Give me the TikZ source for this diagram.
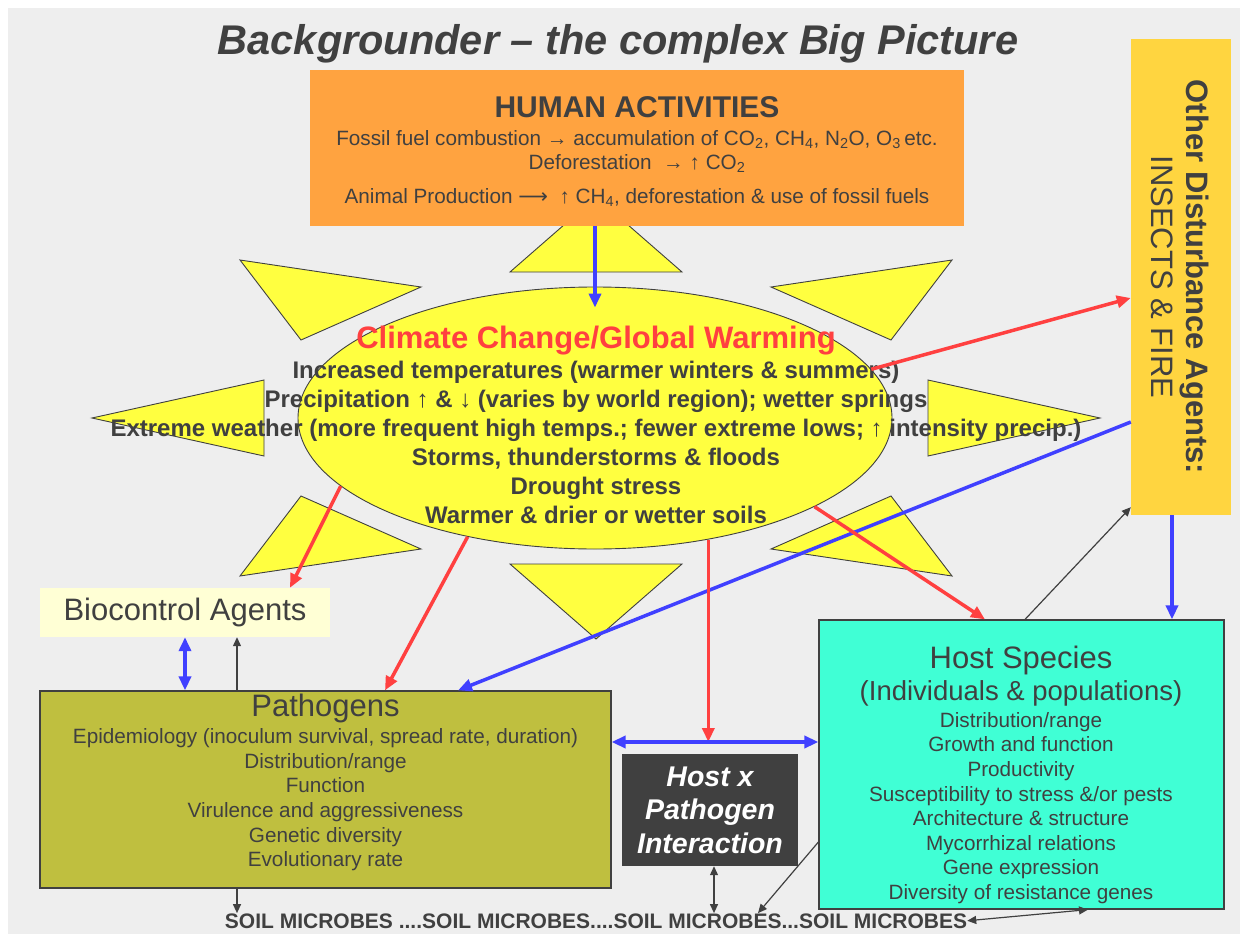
\documentclass[tikz,border=0pt]{standalone}
\usepackage{fontspec}
\setmainfont{Liberation Sans}
\newfontfamily\longarrowfont{DejaVu Sans}
\usetikzlibrary{arrows.meta,shapes.geometric}
\lineskiplimit=-99pt

\definecolor{bggray}{HTML}{EEEEEE}
\definecolor{ink}{HTML}{404040}
\definecolor{orangebox}{HTML}{FFA340}
\definecolor{sunny}{HTML}{FFFF40}
\definecolor{gold}{HTML}{FFD540}
\definecolor{pale}{HTML}{FFFFD5}
\definecolor{olive}{HTML}{BFBF3F}
\definecolor{aqua}{HTML}{40FFD5}
\definecolor{hotred}{HTML}{FF4040}
\definecolor{coldblue}{HTML}{4040FF}

\begin{document}
\begin{tikzpicture}[x=1pt,y=-1pt,
    every node/.style={text=ink, inner sep=0pt, align=center},
    ray/.style={fill=sunny, draw=ink, line width=0.9pt},
    hot/.style={draw=hotred, line width=3.5pt, -{Triangle[length=14pt,width=12pt]}},
    cold/.style={draw=coldblue, line width=3.5pt, -{Triangle[length=14pt,width=12pt]}},
    cold2/.style={cold, {Triangle[length=14pt,width=12pt]}-{Triangle[length=14pt,width=12pt]}},
    link/.style={draw=ink, line width=1.2pt, -{Triangle[length=9pt,width=8pt]}},
    link2/.style={link, {Triangle[length=9pt,width=8pt]}-{Triangle[length=9pt,width=8pt]}},
    big/.style={font=\fontsize{31}{35}\selectfont},
    small/.style={font=\fontsize{20.7}{24.6}\selectfont}]

    \useasboundingbox (0,0) rectangle (1240,934);
    \fill[bggray] (8,8) rectangle (1240,934); % slide background

    \node[font=\fontsize{41.5}{48}\selectfont\bfseries\itshape, anchor=base] (title) at (618,55)
        {Backgrounder – the complex Big Picture};

    % the rays of the sun, mirrored round its centre
    \begin{scope}[shift={(596,418)}]
    \foreach \sx in {1,-1}
        \foreach \sy in {1,-1}
            \filldraw[ray, xscale=\sx, yscale=\sy] (-356,-158) -- (-175,-131) -- (-295,-78) -- cycle;
    \foreach \s in {1,-1}
    {
        \filldraw[ray, yscale=\s] (-86,-146) -- (86,-146) -- (0,-221) -- cycle; % up and down
        \filldraw[ray, xscale=\s] (-504,0) -- (-332,-38) -- (-332,38) -- cycle; % left and right
    }
    \end{scope}

    \node[fill=orangebox, minimum width=654pt, minimum height=156pt] (human) at (637,148) {};
    \node[font=\fontsize{20.7}{24}\selectfont] (humantxt) at (637,151.5)
    {
        {\fontsize{30}{36}\selectfont\bfseries HUMAN ACTIVITIES}\\[4pt]
        Fossil fuel combustion → accumulation of CO\textsubscript{2}, CH\textsubscript{4}, N\textsubscript{2}O, O\textsubscript{3}\,etc.\\
        Deforestation \ → ↑ CO\textsubscript{2}\\[10pt]
        Animal Production {\longarrowfont ⟶}\ \ ↑ CH\textsubscript{4}, deforestation \& use of fossil fuels
    };

    \node[ellipse, fill=sunny, draw=ink, line width=0.9pt,
          minimum width=594pt, minimum height=262pt] (sun) at (595,418) {};
    \node[font=\fontsize{24}{29}\selectfont\bfseries] (climate) at (596,424.5)
    {
        {\color{hotred}\fontsize{31}{35}\selectfont Climate Change/Global Warming}\\[1pt]
        Increased temperatures (warmer winters \& summers)\\
        Precipitation ↑ \& ↓ (varies by world region); wetter springs\\
        Extreme weather (more frequent high temps.; fewer extreme lows; ↑ intensity precip.)\\
        Storms, thunderstorms \& floods\\
        Drought stress\\
        Warmer \& drier or wetter soils
    };

    \node[fill=gold, minimum width=100pt, minimum height=476pt] (agents) at (1181,277) {};
    \node[big, rotate=-90] (agentstxt) at (1180,277)
        {{\bfseries Other Disturbance Agents:}\\INSECTS \& FIRE};

    \node[fill=pale, minimum width=290pt, minimum height=49pt, big] (bio) at (185,612.5) {Biocontrol Agents};

    \node[fill=olive, draw=ink, line width=1.2pt, minimum width=571pt, minimum height=197pt] (patho) at (325.5,789.5) {};
    \node[small] (pathotxt) at (325.5,782.6)
    {
        {\fontsize{31}{35}\selectfont Pathogens}\\[2.5pt]
        Epidemiology (inoculum survival, spread rate, duration)\\
        Distribution/range\\
        Function\\
        Virulence and aggressiveness\\
        Genetic diversity\\
        Evolutionary rate
    };

    \node[fill=ink, text=white, minimum width=176pt, minimum height=112pt,
          font=\fontsize{28.5}{33.5}\selectfont\bfseries\itshape] (hxp) at (710,810) {Host x\\Pathogen\\Interaction};

    \node[fill=aqua, draw=ink, line width=1.2pt, minimum width=405pt, minimum height=289pt] (host) at (1021.5,764.5) {};
    \node[small] (hosttxt) at (1021,775)
    {
        {\fontsize{31}{35}\selectfont Host Species}\\[7.3pt]
        {\fontsize{27.5}{32}\selectfont (Individuals \& populations)}\\[2.3pt]
        Distribution/range\\
        Growth and function\\
        Productivity\\
        Susceptibility to stress \&/or pests\\
        Architecture \& structure\\
        Mycorrhizal relations\\
        Gene expression\\
        Diversity of resistance genes
    };

    \node[font=\fontsize{21}{24}\selectfont\bfseries, anchor=base] (soil) at (596,928)
        {SOIL MICROBES ....SOIL MICROBES....SOIL MICROBES...SOIL MICROBES};

    % climate and disturbance links
    \draw[cold] (human.south -| sun.north) -- ([yshift=-21pt]sun.north);
    \draw[hot] (sun.10) -- (agents.west |- 0,298);
    \draw[cold] (agents.west |- 0,422) -- (patho.north -| 458,0);
    \draw[hot] (sun.195) -- (bio.north -| 290,0);
    \draw[hot] (sun.223) -- (patho.north -| 385,0);
    \draw[hot] (sun.-47) -- (sun.-47 |- 0,742);
    \draw[hot] (sun.-22) -- (host.north -| 985,0);
    \draw[cold] (agents.south -| 1172,0) -- (host.north -| 1172,0);
    \draw[cold2] (patho.east |- 0,742) -- (host.west |- 0,742);
    \draw[cold2] (bio.south) -- (bio.south |- patho.north);

    % thin links
    \draw[link] (patho.north -| 237,0) -- (bio.south -| 237,0);
    \draw[link] (host.north -| 1025,0) -- ([yshift=8pt]agents.south west);
    \draw[link] (patho.south -| 237,0) -- (soil.north -| 237,0);
    \draw[link2] (hxp.south -| 714,0) -- (soil.north -| 714,0);
    \draw[link] (host.west |- 0,842) -- (soil.north -| 758,0);
    \draw[link2] (soil.east) -- (host.south -| 1088,0);

\end{tikzpicture}
\end{document}
